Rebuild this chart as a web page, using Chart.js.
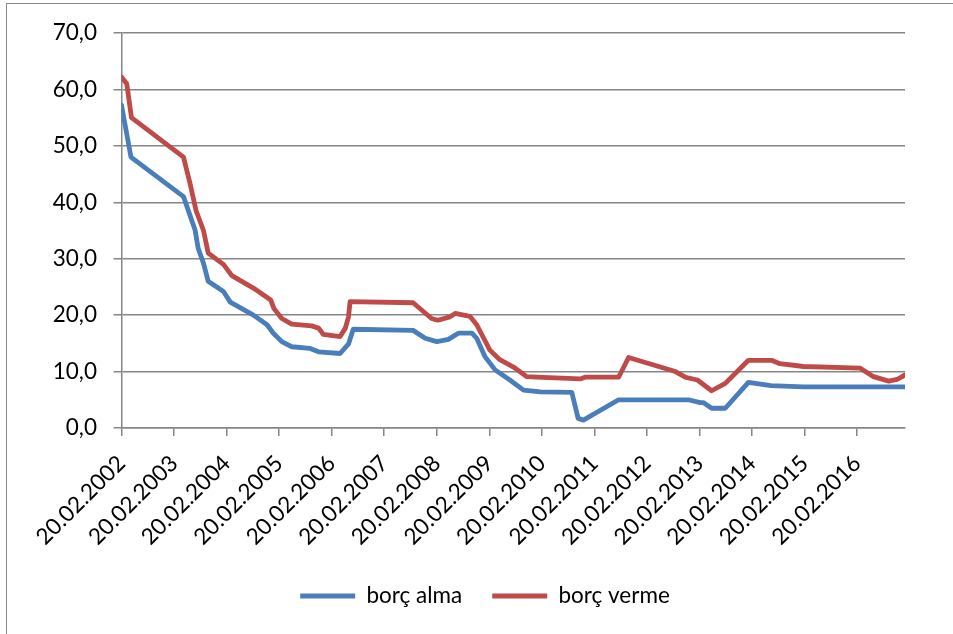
<!DOCTYPE html>
<html><head><meta charset="utf-8">
<script src="https://cdn.jsdelivr.net/npm/chart.js@4/dist/chart.umd.min.js"></script>
<style>
html,body{margin:0;padding:0;background:#fff;overflow:hidden;}
#wrap{position:relative;width:953px;height:634px;overflow:hidden;}
#frame{position:absolute;left:6px;top:3px;width:1000px;height:700px;border-left:1.5px solid #8a8a8a;border-top:1.5px solid #8a8a8a;}
canvas{position:absolute;left:0;top:0;}
</style></head><body>
<div id="wrap"><div id="frame"></div><canvas id="c" width="953" height="634"></canvas></div>
<script>
const seriesNames = ['borç alma', 'borç verme'];

// borç alma (decimal year, value)
const almaX = [2002.00, 2002.18, 2003.18, 2003.40, 2003.46, 2003.56, 2003.65, 2003.94, 2004.07, 2004.51,
  2004.77, 2004.89, 2005.05, 2005.24, 2005.59, 2005.75, 2006.16, 2006.32, 2006.41, 2007.55,
  2007.78, 2008.00, 2008.22, 2008.41, 2008.67, 2008.76, 2008.92, 2009.11, 2009.39, 2009.65,
  2009.97, 2010.57, 2010.69, 2010.79, 2011.46, 2012.79, 2013.01, 2013.07, 2013.23, 2013.49,
  2013.93, 2014.36, 2014.98, 2016.91];
const almaY = [57.2, 48.0, 41.0, 35.1, 31.8, 29.2, 26.0, 24.2, 22.3, 20.0,
  18.3, 16.8, 15.3, 14.4, 14.1, 13.5, 13.2, 14.9, 17.5, 17.3,
  15.9, 15.3, 15.7, 16.8, 16.8, 15.9, 12.6, 10.3, 8.5, 6.7,
  6.4, 6.3, 1.7, 1.4, 5.0, 5.0, 4.5, 4.5, 3.5, 3.5,
  8.1, 7.5, 7.3, 7.3];

// borç verme (decimal year, value)
const vermeX = [2002.00, 2002.10, 2002.19, 2003.18, 2003.30, 2003.42, 2003.56, 2003.65, 2003.94, 2004.10,
  2004.51, 2004.84, 2004.90, 2005.05, 2005.24, 2005.62, 2005.75, 2005.84, 2006.16, 2006.26,
  2006.32, 2006.35, 2007.55, 2007.90, 2008.02, 2008.25, 2008.35, 2008.63, 2008.76, 2009.01,
  2009.20, 2009.46, 2009.71, 2009.90, 2010.73, 2010.82, 2011.46, 2011.65, 2012.54, 2012.73,
  2012.96, 2013.23, 2013.49, 2013.93, 2014.37, 2014.53, 2014.98, 2016.06, 2016.31, 2016.60,
  2016.76, 2016.91];
const vermeY = [62.2, 61.0, 55.0, 48.0, 43.5, 38.5, 35.0, 31.0, 29.0, 27.0,
  24.8, 22.7, 21.2, 19.4, 18.4, 18.1, 17.7, 16.6, 16.2, 17.7,
  19.7, 22.4, 22.2, 19.4, 19.1, 19.7, 20.3, 19.8, 18.3, 13.8,
  12.1, 10.8, 9.1, 9.0, 8.7, 9.0, 9.0, 12.5, 10.0, 9.0,
  8.5, 6.6, 7.9, 12.0, 12.0, 11.4, 10.9, 10.6, 9.1, 8.3,
  8.6, 9.4];

const xTickYears = [2002, 2003, 2004, 2005, 2006, 2007, 2008, 2009, 2010, 2011, 2012, 2013, 2014, 2015, 2016];
const xTickLabels = ['20.02.2002', '20.02.2003', '20.02.2004', '20.02.2005', '20.02.2006', '20.02.2007', '20.02.2008',
  '20.02.2009', '20.02.2010', '20.02.2011', '20.02.2012', '20.02.2013', '20.02.2014', '20.02.2015', '20.02.2016'];
const yTickValues = [0, 10, 20, 30, 40, 50, 60, 70];
const yTickLabels = ['0,0', '10,0', '20,0', '30,0', '40,0', '50,0', '60,0', '70,0'];

const FONT = {family: 'Lato', size: 22.5};
const PAD = {left: 17, top: 33, right: 0, bottom: 16.75};
const PLOT_BOTTOM = 428;
const PLOT_LEFT = 121.5;
const GRID = '#868686';

new Chart(document.getElementById('c'), {
  type: 'line',
  data: {
    datasets: [
      {label: seriesNames[0], data: almaX.map((x, i) => ({x: x, y: almaY[i]})),
       borderColor: '#4A7EBB', backgroundColor: '#4A7EBB', borderWidth: 4.8, pointRadius: 0,
       tension: 0, borderJoinStyle: 'round', borderCapStyle: 'round', yAxisID: 'y'},
      {label: seriesNames[1], data: vermeX.map((x, i) => ({x: x, y: vermeY[i]})),
       borderColor: '#BE4B48', backgroundColor: '#BE4B48', borderWidth: 4.8, pointRadius: 0,
       tension: 0, borderJoinStyle: 'round', borderCapStyle: 'round', yAxisID: 'y'}
    ]
  },
  options: {
    responsive: false, animation: false, devicePixelRatio: 1,
    layout: {padding: PAD},
    plugins: {
      legend: {position: 'bottom',
        labels: {usePointStyle: true, pointStyle: 'line', pointStyleWidth: 55, boxHeight: 10,
                 font: FONT, color: '#000', padding: 30}},
      tooltip: {enabled: false}
    },
    scales: {
      x: {type: 'linear', min: 2002, max: 2016.91,
        afterBuildTicks: s => { s.ticks = xTickYears.map(v => ({value: v})); },
        ticks: {callback: v => xTickLabels[xTickYears.indexOf(v)], minRotation: 45, maxRotation: 45,
                autoSkip: false, font: FONT, color: '#000', padding: 14},
        grid: {drawOnChartArea: false, drawTicks: true, tickLength: 8, color: GRID, lineWidth: 1.5},
        border: {color: GRID, width: 1.5},
        afterFit: s => { s.height = s.chart.height - PAD.bottom - s.chart.legend.height - PLOT_BOTTOM; }
      },
      y: {type: 'linear', min: 0, max: 70, position: 'left',
        afterBuildTicks: s => { s.ticks = yTickValues.map(v => ({value: v})); },
        ticks: {callback: v => yTickLabels[yTickValues.indexOf(v)], font: FONT, color: '#000', padding: 16.5},
        grid: {color: GRID, lineWidth: 1.5, tickLength: 8},
        border: {color: GRID, width: 1.5},
        afterFit: s => { s.width = PLOT_LEFT - PAD.left; }
      },
      yr: {type: 'linear', position: 'right', min: 0, max: 70,
        grid: {display: false}, border: {display: false}, ticks: {display: false},
        afterFit: s => { s.width = 48; }
      }
    }
  }
});
</script>
</body></html>
